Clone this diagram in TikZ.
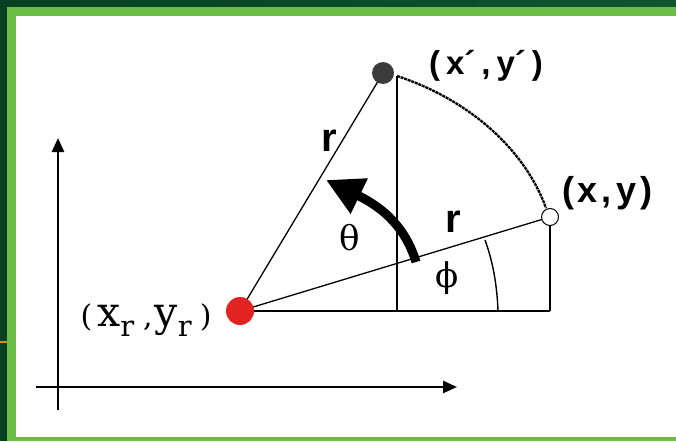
\documentclass[tikz,border=0pt]{standalone}
\usepackage{fontspec}
\setmainfont{Liberation Serif}
\newfontfamily\lsans{Liberation Sans}
\newfontfamily\dser{DejaVu Serif}
\usetikzlibrary{arrows.meta}
\definecolor{darkgreen}{HTML}{083F22}
\definecolor{darkgreenR}{HTML}{0E5530}
\definecolor{lightgreen}{HTML}{6BBD45}
\definecolor{tick}{HTML}{C8902A}
\definecolor{dotgray}{HTML}{3C3C3C}
\definecolor{dotred}{HTML}{E32222}
\begin{document}
\begin{tikzpicture}[x=1pt,y=-1pt,
  thinline/.style={draw=black,line width=1.3pt},
  axisline/.style={draw=black,line width=2.6pt,-{Triangle[length=14pt,width=12pt]}},
  sanslbl/.style={inner sep=0pt,font=\lsans\bfseries\fontsize{#1}{#1}\selectfont},
  greeklbl/.style={inner sep=0pt,font=\dser\fontsize{#1}{#1}\selectfont},
  seriflbl/.style={inner sep=0pt,font=\dser\fontsize{#1}{#1}\selectfont}]
\useasboundingbox (0,0) rectangle (676,441);
% frame
\fill[darkgreen] (0,0) rectangle (676,441);
\shade[left color=darkgreen,right color=darkgreenR] (0,0) rectangle (676,7);
\fill[lightgreen] (7,7) rectangle (676,441);
\fill[white] (16,16) rectangle (676,437);
\fill[tick] (0,341) rectangle (7,343);
% axes
\coordinate (ybot) at (58,410);
\coordinate (ytop) at (58,138);
\coordinate (xleft) at (36,387);
\coordinate (xright) at (457,387);
\draw[axisline] (ybot) -- (ytop);
\draw[axisline] (xleft) -- (xright);
% points
\coordinate (Rc) at (240,311);
\coordinate (Pc) at (383,73);
\coordinate (Qc) at (550,217);
\coordinate (F1) at (397,311);
\coordinate (F2) at (550,311);
\coordinate (T1) at (397,76);
% lines
\draw[thinline] (Rc) -- (Pc);
\draw[thinline] (Rc) -- (Qc);
\draw[draw=black,line width=2.2pt] (Rc) -- (F2);
\draw[thinline] (T1) -- (F1);
\draw[thinline] (Qc) -- (F2);
% dotted arc
\draw[line width=2.3pt,dash pattern=on 3pt off 0.8pt] (T1) .. controls (470,100) and (525,150) .. (546,208);
% phi arc
\draw[line width=1.4pt] (485,240) .. controls (493,262) and (497,285) .. (498,311);
% theta arrow
\coordinate (A0) at (416,262);
\coordinate (A1) at (326,180);
\draw[line width=9pt,-{Triangle[length=37pt,width=37pt]}] (A0) .. controls (408,236) and (392,212) .. (A1);
% dots
\node[circle,fill=dotred,minimum size=28pt,inner sep=0pt] (R) at (Rc) {};
\node[circle,fill=dotgray,minimum size=22pt,inner sep=0pt] (P) at (Pc) {};
\node[circle,draw=black,fill=white,line width=1pt,minimum size=17pt,inner sep=0pt] (Q) at (Qc) {};
% labels
\node[sanslbl=40] (r1) at (329,141) {r};
\node[sanslbl=40] (r2) at (453,222) {r};
\node[greeklbl=34] (th) at (350,238) {θ};
\node[greeklbl=34] (ph) at (447,278) {ϕ};
\node[sanslbl=33] (lp) at (486,66) {(\kern6pt x´\kern6pt,\kern6pt y´\kern6pt)};
\node[sanslbl=36] (lq) at (607,193) {(\kern4pt x\kern4pt,\kern4pt y\kern4pt)};
\node[seriflbl=30] (lr) at (146,320) {(\kern5pt{\fontsize{41}{41}\selectfont x}\raisebox{-10pt}{\fontsize{29}{29}\selectfont r}\kern9pt,\kern2pt{\fontsize{41}{41}\selectfont y}\raisebox{-10pt}{\fontsize{29}{29}\selectfont r}\kern8pt)};
\end{tikzpicture}
\end{document}
